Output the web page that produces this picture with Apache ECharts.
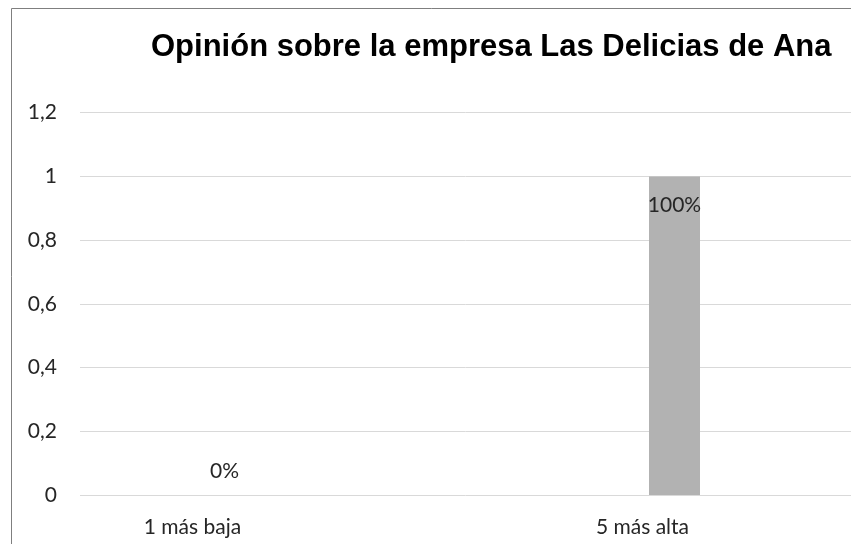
<!DOCTYPE html>
<html>
<head>
<meta charset="utf-8">
<script src="https://cdn.jsdelivr.net/npm/echarts@6/dist/echarts.min.js"></script>
<style>
  html, body { margin: 0; padding: 0; background: #fff; }
  #chart { width: 851px; height: 544px; }
</style>
</head>
<body>
<div id="chart"></div>
<script>
// Survey answers: share of respondents per rating
const titleText = 'Opinión sobre la empresa Las Delicias de Ana';
const categories = ['1 más baja', '5 más alta'];
const shares = [0, 1];
const yMin = 0;
const yMax = 1.2;
const yStep = 0.2;

const labelFont = 'Lato, "Noto Sans", sans-serif';
const labelSize = 21;
const textColor = '#262626';

const chart = echarts.init(document.getElementById('chart'), null, { renderer: 'canvas' });

// Bars: zero-height bars carry their label above the baseline, others inside the top
const barData = shares.map(v => ({
  value: v,
  label: v > 0 ? { position: 'insideTop', distance: 18 } : { position: 'top', distance: 13 }
}));

chart.setOption({
  animation: false,
  backgroundColor: '#ffffff',
  title: {
    text: titleText,
    left: 146,
    top: 27,
    textStyle: {
      fontFamily: '"Liberation Sans", Arial, sans-serif',
      fontWeight: 'bold',
      fontSize: 31,
      color: '#000'
    }
  },
  graphic: [{
    type: 'rect',
    shape: { x: 11.5, y: 8.5, width: 1200, height: 1200 },
    style: { fill: 'none', stroke: '#7f7f7f', lineWidth: 1 },
    silent: true,
    z: 10
  }],
  grid: [
    // value-axis grid: labels and horizontal gridlines
    { left: 80, right: 0, top: 112.7, bottom: 49 },
    // category grid for the bars (runs past the right edge)
    { left: -0.5, width: 900, top: 112.7, bottom: 49, outerBoundsMode: 'none' }
  ],
  xAxis: [
    { type: 'value', gridIndex: 0, show: false, min: 0, max: 1 },
    {
      type: 'category',
      gridIndex: 1,
      data: categories,
      axisLine: { show: false },
      axisTick: { show: false },
      axisLabel: {
        interval: 0,
        margin: 22,
        padding: [0, 64, 0, 0],
        fontFamily: labelFont,
        fontSize: labelSize,
        color: textColor
      }
    }
  ],
  yAxis: [
    {
      type: 'value',
      gridIndex: 0,
      min: yMin,
      max: yMax,
      interval: yStep,
      axisLine: { show: false },
      axisTick: { show: false },
      splitLine: { show: true, lineStyle: { color: '#d9d9d9', width: 1 } },
      axisLabel: {
        margin: 23,
        fontFamily: labelFont,
        fontSize: labelSize,
        color: textColor,
        formatter: v => String(Math.round(v * 10) / 10).replace('.', ',')
      }
    },
    { type: 'value', gridIndex: 1, min: yMin, max: yMax, show: false }
  ],
  series: [{
    type: 'bar',
    xAxisIndex: 1,
    yAxisIndex: 1,
    data: barData,
    barWidth: 51,
    itemStyle: { color: '#b2b2b2' },
    label: {
      show: true,
      fontFamily: labelFont,
      fontSize: labelSize,
      color: textColor,
      formatter: p => Math.round(p.value * 100) + '%'
    }
  }]
});
</script>
</body>
</html>
